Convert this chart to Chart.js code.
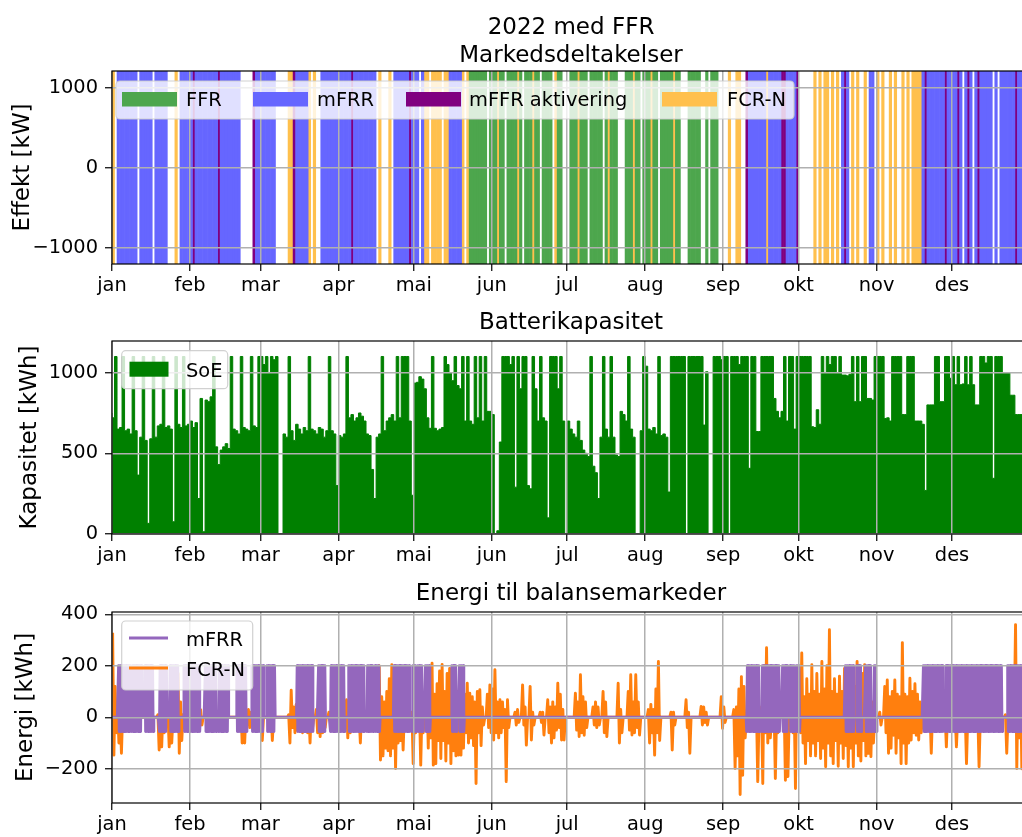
<!DOCTYPE html>
<html>
<head>
<meta charset="utf-8">
<script src="https://cdn.jsdelivr.net/npm/chart.js@4.4.1/dist/chart.umd.min.js"></script>
<style>
html, body { margin:0; padding:0; background:#ffffff; width:1022px; height:837px; overflow:hidden; position:relative; }
canvas { position:absolute; left:0; }
</style>
</head>
<body>
<canvas id="c1" width="1040" height="300" style="top:0px;width:1040px;height:300px"></canvas>
<canvas id="c2" width="1040" height="270" style="top:300px;width:1040px;height:270px"></canvas>
<canvas id="c3" width="1040" height="267" style="top:570px;width:1040px;height:267px"></canvas>
<script>
// ================= DATA =================
const monthStarts = [0,31,59,90,120,151,181,212,243,273,304,334];
const monthNames  = ['jan','feb','mar','apr','mai','jun','jul','aug','sep','okt','nov','des'];

// Market participation per day: G = FFR, B = mFRR, P = mFFR aktivering, O = FCR-N, . = none
const marketNames  = ['FFR','mFRR','mFFR aktivering','FCR-N'];
const marketCodes  = ['G','B','P','O'];
const marketColors = ['#4da64d','#6666ff','#800080','#ffc04d'];
const marketJan = "O.BBBBBBBB.BBBBB.BBBBB...O.BBBB";
const marketFeb = "BPBBBBBBBBBPBBBBBBBB.....PBB";
const marketMar = "BBBBBB.....OOPBBBBBO.O..BBBBBBB";
const marketApr = "BBBBBPBBBBBBBBB.O...O.BBBBBBPB";
const marketMay = "BB.BOO.OOOO.OOBBBBBO.OGGGGGGG.G";
const marketJun = "GGOGG.GGGGOG.GGGOGG.GGGG.OGG..";
const marketJul = ".GGGOGGG.GGGGG.GOGGG...GGGOGG.G";
const marketAug = "GGOGG.GGGGGOGG...GGGGG..G.GGG..";
const marketSep = "..O..OO..PBBBBBBBOBBBBBPPBBBBP";
const marketOct = "......O.O.OO.O.O.BPB.O.O..O.BB.";
const marketNov = "O.O..O.O..O.O.OOOOBPBBBBBBBPBB";
const marketDec = "BBPB.BPB.BPBBBBB.B.BBBBBBPBBBBB";

// State of energy (kWh), one value per day
const soeJan = [750,720,1100,650,660,1100,640,650,620,1100,640,365,600,1100,580,66,590,1100,600,670,680,1100,660,670,650,76,1100,680,660,1100,670];
const soeFeb = [680,700,660,690,220,840,14,830,820,850,1100,540,430,520,540,560,530,1100,650,640,620,1100,660,650,640,1100,670,660];
const soeMar = [1100,1100,1050,1100,1000,1100,1080,1100,0,0,620,600,1100,640,580,680,650,620,660,640,1100,650,640,620,660,650,600,640,1100,640,620];
const soeApr = [300,610,600,620,1100,720,740,700,720,750,730,700,620,610,400,220,600,620,1100,640,700,720,740,700,1100,720,1100,1100,1100,700];
const soeMay = [240,935,940,975,960,900,720,655,1100,655,640,650,660,1100,1050,1000,950,1100,920,900,1100,700,1100,700,680,1100,720,1100,700,1100,760];
const soeJun = [760,740,0,20,570,1100,1100,1100,1050,1100,290,1100,900,1100,1100,300,280,1100,900,700,1100,720,700,100,1100,1100,1100,900,1100,700];
const soeJul = [0,700,650,620,600,700,580,520,500,480,1100,420,380,220,600,1100,650,600,1100,600,490,480,760,740,700,1100,650,600,0,0,640];
const soeAug = [1100,1040,650,640,660,620,1100,610,620,600,260,1100,1100,1100,1100,1100,1100,0,1100,1100,1100,1100,1100,1100,675,1005,0,0,1100,1100,1100];
const soeSep = [1080,1100,1100,0,1100,1100,1100,1050,1100,1100,1100,407,1100,1100,635,635,1100,1100,1100,1100,1100,840,760,720,760,1100,700,1100,1100,650];
const soeOct = [1100,1100,1100,1100,1100,1100,665,660,770,680,1100,1000,1100,1050,1100,1100,1000,1100,985,985,980,990,1100,820,1100,820,1100,1100,840,840,830];
const soeNov = [1100,1100,1100,1100,716,720,700,1100,1100,1100,1100,740,740,1100,1100,1100,700,700,700,680,270,800,800,800,1100,1100,820,820,1100,1100];
const soeDec = [965,1100,925,1100,925,930,1100,925,1100,925,800,800,1100,1100,1060,1100,1100,345,1100,1100,1100,1000,1000,1000,860,860,740,740,740,730,720];

// mFRR energy: periods (day from 1 Jan) where it swings between up and down level
const mfrrUp = 200, mfrrDown = -55;
const mfrrPeriods = [[2.5,7.2],[7.8,11.8],[13.1,16.4],[18.8,21.7],[23,26.4],[28.4,35],[37,41.6],[42.3,46.3],[49.6,53.5],[55.5,60.2],[61.5,64.8],[73.4,80],[82,84.7],[86.7,92.6],[94,100.6],[101.3,104],[104.6,106.6],[111.9,118.5],[119.2,121.1],[121.4,123.5],[124.4,126.4],[135,137],[138,140],[252.3,257.6],[258.3,265.6],[266.6,268.8],[269.5,271.5],[272.1,273.5],[291.5,295],[296.1,298],[299.4,302],[302.7,304],[322.6,330.6],[331.3,353.9],[355.9,365]];

// FCR-N energy: [day, daily high, daily low] (kWh); other days ~0
const fcrQ1 = [[0,328,-147],[1,120,-60],[2,40,-100],[3,30,-140],[4,20,-40],[18,10,-127],[19,30,-115],[20,20,-60],[22,10,-115],[23,20,-100],[25,40,-20],[26,170,-140],[27,60,-90],[28,10,-40],[35,30,-30],[37,20,-20],[40,30,-10],[42,20,-30],[51,40,-100],[52,30,-100],[53,20,-30],[54,30,-40],[55,20,-30],[59,10,-90],[63,20,-90],[70,10,-100],[71,105,-40],[72,40,-60],[73,50,-50],[74,30,-40],[75,50,-60],[76,40,-50],[77,30,-60],[78,20,-100],[79,40,-40],[81,30,-60],[82,68,-75],[83,40,-60],[84,20,-40],[86,20,-10],[87,30,-50],[89,20,-30]];
const fcrQ2 = [[93,68,-80],[94,20,-60],[98,10,-100],[99,30,-30],[101,20,-30],[103,30,-30],[106,200,-166],[107,80,-150],[108,60,-120],[109,100,-130],[110,150,-150],[111,204,-120],[112,100,-199],[113,80,-100],[114,145,-90],[115,30,-127],[116,20,-30],[117,30,-30],[119,20,-180],[120,30,-60],[122,40,-186],[123,30,-60],[125,100,-120],[126,150,-80],[127,210,-186],[128,90,-180],[129,130,-90],[130,180,-160],[131,205,-90],[132,100,-170],[133,170,-100],[134,190,-180],[135,90,-130],[136,120,-150],[137,100,-147],[138,80,-147],[139,80,-120],[140,90,-60],[141,132,-100],[142,94,-80],[143,80,-110],[144,60,-257],[145,100,-60],[146,107,-110],[147,40,-30],[149,90,-40],[150,126,-60],[151,110,-88],[152,185,-60],[153,60,-80],[154,68,-60],[155,60,-40],[156,30,-250],[157,68,-40],[160,20,-30],[161,30,-20],[163,126,-30],[164,40,-108],[166,120,-88],[167,20,-30],[170,20,-20],[171,20,-69],[173,68,-60],[174,40,-100],[175,60,-80],[176,40,-50],[177,132,-40],[178,90,-88],[179,30,-88]];
const fcrQ3 = [[184,94,-50],[185,60,-75],[186,165,-60],[187,80,-70],[188,60,-40],[191,40,-30],[192,60,-40],[193,40,-30],[195,100,-60],[196,60,-75],[201,132,-100],[202,30,-60],[205,100,-50],[206,165,-69],[207,60,-60],[208,165,-40],[209,60,-69],[213,30,-100],[214,50,-60],[215,30,-147],[216,110,-60],[217,217,-90],[222,20,-127],[223,20,-30],[228,68,-40],[229,20,-140],[234,42,-30],[235,40,-20],[236,20,-30],[242,80,-43],[243,40,-20],[247,30,-199],[248,40,-150],[249,110,-300],[250,158,-225],[251,120,-80],[256,30,-250],[258,40,-257],[259,200,-60],[260,270,-100],[261,100,-80],[263,30,-238],[264,20,-60],[267,40,-245],[268,60,-230],[270,50,-60],[271,40,-277],[272,158,-40]];
const fcrQ4 = [[273,100,-60],[274,250,-100],[275,80,-180],[276,150,-90],[277,90,-150],[278,204,-100],[279,100,-150],[280,170,-90],[281,90,-160],[282,217,-120],[283,110,-192],[284,200,-100],[285,340,-150],[286,100,-180],[287,150,-90],[288,90,-190],[289,160,-100],[290,100,-160],[291,190,-110],[292,90,-192],[293,150,-120],[294,100,-192],[295,120,-100],[296,217,-150],[297,100,-170],[298,170,-90],[299,204,-150],[300,90,-140],[301,100,-153],[302,60,-100],[305,20,-30],[307,120,-60],[308,145,-140],[309,80,-120],[310,100,-70],[311,145,-140],[312,90,-80],[313,80,-180],[314,290,-100],[315,90,-180],[316,80,-100],[317,152,-88],[318,100,-60],[319,130,-70],[320,90,-88],[321,60,-60],[325,20,-140],[326,20,-40],[331,10,-115],[332,20,-30],[335,10,-115],[339,10,-180],[344,10,-192],[355,10,-140],[359,360,-199],[360,145,-80],[361,150,-200],[362,100,-150],[363,120,-100],[364,80,-100]];

// ================= BUILD =================
const DAYS = 365;
let codeStr = marketJan + marketFeb + marketMar + marketApr + marketMay + marketJun + marketJul + marketAug + marketSep + marketOct + marketNov + marketDec;
while (codeStr.length < DAYS) codeStr += '.';
const dayCodes = codeStr.slice(0, DAYS).split('');
const dayLabels = dayCodes.map((c, i) => i);

const soe = [].concat(soeJan, soeFeb, soeMar, soeApr, soeMay, soeJun, soeJul, soeAug, soeSep, soeOct, soeNov, soeDec);
const soePoints = soe.map((v, d) => ({x: d, y: v}));
soePoints.push({x: DAYS, y: soe[soe.length - 1]});

// mFRR swings up/down several times a day inside its periods
const mfrrPoints = [];
for (let d = 0; d < DAYS; d++) {
  [0.125, 0.375, 0.625, 0.875].forEach((h, k) => {
    const x = d + h;
    const on = mfrrPeriods.some(p => x >= p[0] && x < p[1]);
    mfrrPoints.push({x, y: on ? (k % 2 === 0 ? mfrrUp : mfrrDown) : 0});
  });
}
const fcrEvents = {};
[].concat(fcrQ1, fcrQ2, fcrQ3, fcrQ4).forEach(e => { fcrEvents[e[0]] = e; });
const fcrPoints = [];
for (let d = 0; d < DAYS; d++) {
  const e = fcrEvents[d];
  fcrPoints.push({x: d + 0.25, y: e ? e[1] : 0});
  fcrPoints.push({x: d + 0.75, y: e ? e[2] : 0});
}

// ================= STYLE / HELPERS =================
const FAM = "'DejaVu Sans', sans-serif";
Chart.defaults.font.family = FAM;
Chart.defaults.color = '#000';
const TICK_FONT = {family: FAM, size: 19.4, lineHeight: 1};
const GRID = {color: '#b0b0b0', lineWidth: 1.5, z: 1, drawTicks: true, tickLength: 7, tickColor: '#000', tickWidth: 1.2};
const fmt = v => (v < 0 ? '\u2212' + Math.abs(v) : String(v));

function monthAxis(h) {
  return {
    type: 'linear', min: 0, max: DAYS, offset: false,
    afterBuildTicks: s => { s.ticks = monthStarts.map(v => ({value: v})); },
    afterFit: s => { s.height = h; },
    ticks: {autoSkip: false, maxRotation: 0, minRotation: 0, padding: 5, font: TICK_FONT, color: '#000',
            callback: v => monthNames[monthStarts.indexOf(v)]},
    grid: Object.assign({offset: false}, GRID),
    border: {display: false}
  };
}
function valueAxis(min, max, tickVals, title, pad) {
  return {
    type: 'linear', min, max,
    afterBuildTicks: s => { s.ticks = tickVals.map(v => ({value: v})); },
    afterFit: s => { s.width = 112; },
    ticks: {padding: 7, font: TICK_FONT, color: '#000', callback: v => fmt(v)},
    grid: Object.assign({}, GRID),
    border: {display: false},
    title: {display: true, text: title, color: '#000', font: {family: FAM, size: 23, lineHeight: 1}, padding: {top: pad, bottom: 0}}
  };
}

const titles = {
  c1: {lines: ['2022 med FFR', 'Markedsdeltakelser'], base: [34, 62]},
  c2: {lines: ['Batterikapasitet'], base: [28.5]},
  c3: {lines: ['Energi til balansemarkeder'], base: [29.5]}
};
const legends = {
  c1: {x: 116, y: 81, w: 678, h: 38, items: [
    {ds: 0, kind: 'patch', hx: 122, hy: 92, hw: 55, hh: 14.5, tx: 186, ty: 106},
    {ds: 1, kind: 'patch', hx: 253, hy: 92, hw: 55, hh: 14.5, tx: 317, ty: 106},
    {ds: 2, kind: 'patch', hx: 406, hy: 92, hw: 55, hh: 14.5, tx: 469, ty: 106},
    {ds: 3, kind: 'patch', hx: 662, hy: 92, hw: 55, hh: 14.5, tx: 727, ty: 106}]},
  c2: {x: 121.7, y: 50.7, w: 106, h: 38, items: [
    {ds: 0, kind: 'patch', hx: 129.5, hy: 61.7, hw: 39, hh: 15, tx: 186, ty: 77}]},
  c3: {x: 121.7, y: 51, w: 131, h: 69, items: [
    {ds: 0, kind: 'line', hx: 129, hy: 68, hw: 39, tx: 186, ty: 76},
    {ds: 1, kind: 'line', hx: 129, hy: 98, hw: 39, tx: 186, ty: 106}]}
};

function roundRect(ctx, x, y, w, h, r) {
  ctx.beginPath();
  ctx.moveTo(x + r, y);
  ctx.arcTo(x + w, y, x + w, y + h, r);
  ctx.arcTo(x + w, y + h, x, y + h, r);
  ctx.arcTo(x, y + h, x, y, r);
  ctx.arcTo(x, y, x + w, y, r);
  ctx.closePath();
}
const framePlugin = {
  id: 'frame',
  afterDraw(chart) {
    const {ctx, chartArea: a} = chart;
    ctx.save();
    ctx.strokeStyle = '#000'; ctx.lineWidth = 1.2;
    ctx.strokeRect(a.left, a.top, a.right - a.left, a.bottom - a.top);
    ctx.restore();
  }
};
const titlePlugin = {
  id: 'axTitle',
  afterDraw(chart) {
    const t = titles[chart.canvas.id]; if (!t) return;
    const {ctx, chartArea: a} = chart;
    ctx.save();
    ctx.font = "23px " + FAM; ctx.fillStyle = '#000';
    ctx.textAlign = 'center'; ctx.textBaseline = 'alphabetic';
    t.lines.forEach((s, i) => ctx.fillText(s, (a.left + a.right) / 2, t.base[i]));
    ctx.restore();
  }
};
const legendPlugin = {
  id: 'boxLegend',
  afterDraw(chart) {
    const L = legends[chart.canvas.id]; if (!L) return;
    const ctx = chart.ctx;
    ctx.save();
    roundRect(ctx, L.x, L.y, L.w, L.h, 4);
    ctx.fillStyle = 'rgba(255,255,255,0.8)'; ctx.fill();
    ctx.strokeStyle = 'rgba(204,204,204,0.9)'; ctx.lineWidth = 1.2; ctx.stroke();
    ctx.font = "19.4px " + FAM; ctx.textAlign = 'left'; ctx.textBaseline = 'alphabetic';
    L.items.forEach(it => {
      const ds = chart.data.datasets[it.ds];
      if (it.kind === 'patch') {
        ctx.fillStyle = ds.backgroundColor;
        ctx.fillRect(it.hx, it.hy, it.hw, it.hh);
      } else {
        ctx.strokeStyle = ds.borderColor; ctx.lineWidth = 2.9; ctx.lineCap = 'butt';
        ctx.beginPath(); ctx.moveTo(it.hx, it.hy); ctx.lineTo(it.hx + it.hw, it.hy); ctx.stroke();
      }
      ctx.fillStyle = '#000';
      ctx.fillText(ds.label, it.tx, it.ty);
    });
    ctx.restore();
  }
};
const plugins = [framePlugin, titlePlugin, legendPlugin];
const baseOpts = (padTop) => ({
  responsive: false, animation: false, devicePixelRatio: 1, events: [],
  layout: {padding: {left: 0, right: 10, top: padTop, bottom: 0}},
  plugins: {legend: {display: false}, tooltip: {enabled: false}, title: {display: false}}
});

// ================= PANEL 1: market participation =================
const y1min = -1205, y1max = 1210;
const opts1 = baseOpts(71);
opts1.scales = {
  x: monthAxis(36),
  xb: {type: 'category', labels: dayLabels, display: false, offset: true, grid: {offset: true}},
  y: valueAxis(y1min, y1max, [-1000, 0, 1000], 'Effekt [kW]', 11.5)
};
new Chart(document.getElementById('c1'), {
  type: 'bar',
  data: {
    labels: dayLabels,
    datasets: marketCodes.map((code, k) => ({
      label: marketNames[k],
      data: dayCodes.map(c => (c === code ? [y1min, y1max] : null)),
      backgroundColor: marketColors[k],
      borderWidth: 0, borderSkipped: false,
      barPercentage: 1, categoryPercentage: 1, grouped: false,
      xAxisID: 'xb', yAxisID: 'y'
    }))
  },
  options: opts1,
  plugins
});

// ================= PANEL 2: SoE =================
const opts2 = baseOpts(41);
opts2.scales = {x: monthAxis(36), y: valueAxis(0, 1196, [0, 500, 1000], 'Kapasitet [kWh]', 18.5)};
new Chart(document.getElementById('c2'), {
  type: 'line',
  data: {datasets: [{
    label: 'SoE', data: soePoints, stepped: 'after', fill: 'origin',
    backgroundColor: '#008000', borderColor: '#008000', borderWidth: 1, pointRadius: 0
  }]},
  options: opts2,
  plugins
});

// ================= PANEL 3: balancing energy =================
const opts3 = baseOpts(42);
opts3.scales = {x: monthAxis(34), y: valueAxis(-333, 409, [-200, 0, 200, 400], 'Energi [kWh]', 15)};
new Chart(document.getElementById('c3'), {
  type: 'line',
  data: {datasets: [
    {label: 'mFRR', data: mfrrPoints, borderColor: '#9467bd', backgroundColor: '#9467bd', borderWidth: 2.9, pointRadius: 0, fill: false, borderJoinStyle: 'round'},
    {label: 'FCR-N', data: fcrPoints, borderColor: '#ff7f0e', backgroundColor: '#ff7f0e', borderWidth: 2.9, pointRadius: 0, fill: false, borderJoinStyle: 'round'}
  ]},
  options: opts3,
  plugins
});
</script>
</body>
</html>
